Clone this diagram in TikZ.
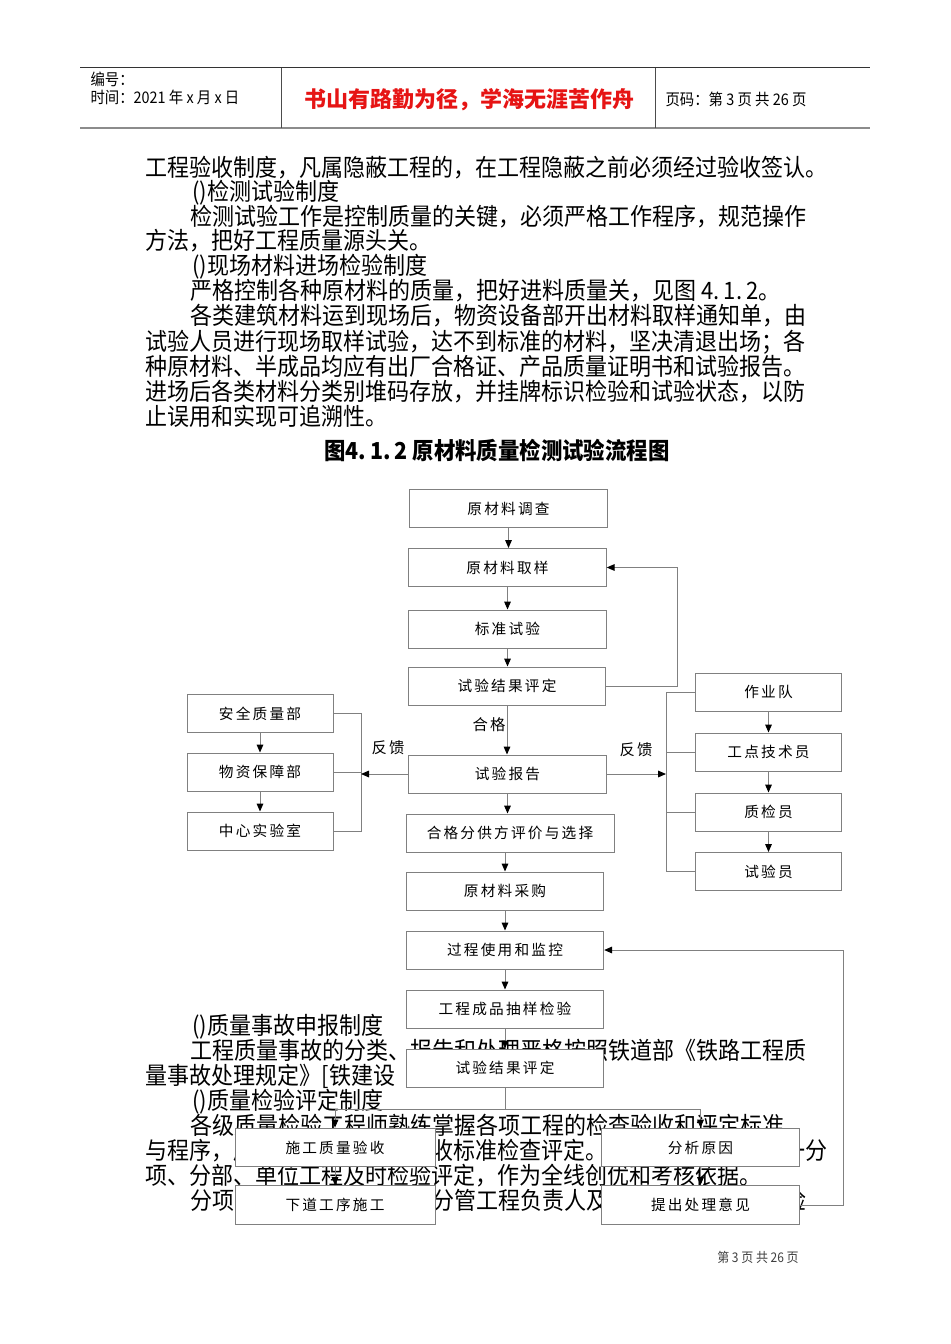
\documentclass[tikz,border=0pt]{standalone}
\usepackage{fontspec}
\setmainfont{Noto Sans CJK SC}
\newfontfamily\bodyfont[FakeStretch=0.917]{Noto Sans CJK SC}
\newfontfamily\hdfont[FakeStretch=0.9]{Noto Sans CJK SC}
\newfontfamily\boxfont[LetterSpace=15]{Noto Sans CJK SC}
\usetikzlibrary{arrows.meta}

\tikzset{every picture/.style={line width=0.75pt}}
\tikzset{
  flowbox/.style={draw=black!50, fill=white, inner sep=0pt, minimum width=148pt, minimum height=28.5pt, font=\boxfont\fontsize{11}{13}\selectfont},
  sidebox/.style={flowbox, minimum width=109.5pt},
  bodyline/.style={anchor=base west, inner sep=0pt, font=\bodyfont\fontsize{18}{20}\selectfont},
  hdtext/.style={anchor=west, inner sep=0pt, font=\hdfont\fontsize{12}{14}\selectfont},
  fblabel/.style={inner sep=0pt, font=\boxfont\fontsize{11.5}{13}\selectfont},
  flowline/.style={draw=black!50},
  flowarrow/.style={flowline, -{Triangle[length=6pt,width=5pt,color=black]}}
}

\begin{document}
\begin{tikzpicture}[x=0.75pt,y=0.75pt,yscale=-1,xscale=1]
			\fill[white] (0,0) rectangle (950,1344);
			\useasboundingbox (0,0) rectangle (950,1344);
			
			%Straight Lines (page head)
			\draw [black!80]  (80,68) -- (870,68) ;
			\draw [black!45][line width=1.5pt]  (80,128) -- (870,128) ;
			\draw [black!70]  (281,68) -- (281,128) ;
			\draw [black!70]  (655,68) -- (655,128) ;
			
			% Text Node
			\node (hdno) at (90,79) [hdtext] {编号：};
			% Text Node
			\node (hdtime) at (90,97) [hdtext] {时间：2021 年 x 月 x 日};
			% Text Node
			\node (motto) at (469,100) [inner sep=0pt, text={rgb,255:red,230;green,20;blue,20}, font=\fontsize{16.5}{18}\selectfont\bfseries] {书山有路勤为径，学海无涯苦作舟};
			% Text Node
			\node (pageno) at (665,99) [hdtext] {页码：第 3 页 共 26 页};
			
			% Text Node
			\node (p1) at (145,177) [bodyline] {工程验收制度，凡属隐蔽工程的，在工程隐蔽之前必须经过验收签认。};
			% Text Node
			\node (p2) at (192,201) [bodyline] {()检测试验制度};
			% Text Node
			\node (p3) at (190,226) [bodyline] {检测试验工作是控制质量的关键，必须严格工作程序，规范操作};
			% Text Node
			\node (p4) at (145,250) [bodyline] {方法，把好工程质量源头关。};
			% Text Node
			\node (p5) at (192,275) [bodyline] {()现场材料进场检验制度};
			% Text Node
			\node (p6) at (190,300) [bodyline] {严格控制各种原材料的质量，把好进料质量关，见图 4.\,1.\,2。};
			% Text Node
			\node (p7) at (190,325) [bodyline] {各类建筑材料运到现场后，物资设备部开出材料取样通知单，由};
			% Text Node
			\node (p8) at (145,350) [bodyline] {试验人员进行现场取样试验，达不到标准的材料，坚决清退出场；各};
			% Text Node
			\node (p9) at (145,375) [bodyline] {种原材料、半成品均应有出厂合格证、产品质量证明书和试验报告。};
			% Text Node
			\node (p10) at (145,400) [bodyline] {进场后各类材料分类别堆码存放，并挂牌标识检验和试验状态，以防};
			% Text Node
			\node (p11) at (145,425) [bodyline] {止误用和实现可追溯性。};
			% Text Node
			\node (figtitle) at (497,451) [inner sep=0pt, font=\bodyfont\fontsize{17.5}{20}\selectfont\bfseries] {图4.\,1.\,2 原材料质量检测试验流程图};
			
			% Text Node
			\node (q1) at (192,1034) [bodyline] {()质量事故申报制度};
			% Text Node
			\node (q2) at (190,1059) [bodyline] {工程质量事故的分类、报告和处理严格按照铁道部《铁路工程质};
			% Text Node
			\node (q3) at (145,1084) [bodyline] {量事故处理规定》[铁建设};
			% Text Node
			\node (q4) at (192,1109) [bodyline] {()质量检验评定制度};
			% Text Node
			\node (q5) at (190,1134) [bodyline] {各级质量检验工程师熟练掌握各项工程的检查验收和评定标准};
			% Text Node
			\node (q6) at (145,1159) [bodyline] {与程序，严格按照施工质量验收标准检查评定。各施工单位应对每一分};
			% Text Node
			\node (q7) at (145,1184) [bodyline] {项、分部、单位工程及时检验评定，作为全线创优和考核依据。};
			% Text Node
			\node (q8) at (190,1209) [bodyline] {分项工程完工后，先由各分管工程负责人及质检工程师进行自检};
			
			% Text Node
			\node (foot) at (758,1257) [inner sep=0pt, text=black!75, font=\hdfont\fontsize{10}{12}\selectfont] {第 3 页 共 26 页};
			
			%Flow boxes (main column)
			\node (survey) at (508.5,508.5) [flowbox] {原材料调查};
			\node (sample) at (507.5,567.5) [flowbox] {原材料取样};
			\node (stdtest) at (507.5,629) [flowbox] {标准试验};
			\node (evalup) at (507,686) [flowbox] {试验结果评定};
			\node (report) at (507.5,774) [flowbox] {试验报告};
			\node (supplier) at (510,833) [flowbox, minimum width=156pt] {合格分供方评价与选择};
			\node (purchase) at (505,891) [flowbox] {原材料采购};
			\node (usage) at (505,950) [flowbox] {过程使用和监控};
			\node (sampling) at (505,1009) [flowbox] {工程成品抽样检验};
			\node (evallow) at (505,1068) [flowbox] {试验结果评定};
			\node (accept) at (335,1147.5) [flowbox, minimum width=150pt, minimum height=29pt] {施工质量验收};
			\node (nextstep) at (335,1205) [flowbox, minimum width=150pt, minimum height=29pt] {下道工序施工};
			\node (analyse) at (700.5,1147.5) [flowbox, minimum width=149pt, minimum height=29pt] {分析原因};
			\node (propose) at (700.5,1205) [flowbox, minimum width=149pt, minimum height=29pt] {提出处理意见};
			
			%Flow boxes (left)
			\node (safety) at (260,713.5) [sidebox] {安全质量部};
			\node (supply) at (260,772) [sidebox] {物资保障部};
			\node (centlab) at (260,831) [sidebox] {中心实验室};
			
			%Flow boxes (right)
			\node (team) at (768.5,692) [sidebox, minimum width=109pt] {作业队};
			\node (sitetech) at (768.5,752) [sidebox, minimum width=109pt] {工点技术员};
			\node (qcman) at (768.5,812) [sidebox, minimum width=109pt] {质检员};
			\node (tester) at (768.5,871.5) [sidebox, minimum width=109pt] {试验员};
			
			\coordinate (lbus) at (361,774);
			\coordinate (rbus) at (666,774);
			\coordinate (split) at (505,1109);
			
			%Straight Lines (main column)
			\draw [flowarrow] (survey.south) -- (survey.south |- sample.north) ;
			\draw [flowarrow] (sample.south) -- (sample.south |- stdtest.north) ;
			\draw [flowarrow] (stdtest.south) -- (stdtest.south |- evalup.north) ;
			\draw [flowarrow] (evalup.south) -- (evalup.south |- report.north) ;
			\draw [flowarrow] (report.south) -- (report.south |- supplier.north) ;
			\draw [flowarrow] (purchase.north |- supplier.south) -- (purchase.north) ;
			\draw [flowarrow] (purchase.south) -- (usage.north) ;
			\draw [flowarrow] (usage.south) -- (sampling.north) ;
			\draw [flowarrow] (sampling.south) -- (evallow.north) ;
			%Straight Lines (repeat sampling)
			\draw [flowarrow] (evalup.east) -- ++(71,0) |- (sample.east) ;
			
			%Straight Lines (left feedback)
			\draw [flowline] (safety.east) -- (safety.east -| lbus) -- (centlab.east -| lbus) -- (centlab.east) ;
			\draw [flowline] (supply.east) -- (supply.east -| lbus) ;
			\draw [flowarrow] (report.west) -- (lbus) ;
			\draw [flowarrow] (safety) -- (supply) ;
			\draw [flowarrow] (supply) -- (centlab) ;
			
			%Straight Lines (right feedback)
			\draw [flowline] (team.west) -- (team.west -| rbus) -- (tester.west -| rbus) -- (tester.west) ;
			\draw [flowline] (sitetech.west) -- (sitetech.west -| rbus) ;
			\draw [flowline] (qcman.west) -- (qcman.west -| rbus) ;
			\draw [flowarrow] (report.east) -- (rbus) ;
			\draw [flowarrow] (team) -- (sitetech) ;
			\draw [flowarrow] (sitetech) -- (qcman) ;
			\draw [flowarrow] (qcman) -- (tester) ;
			
			%Straight Lines (bottom branches)
			\draw [flowline] (evallow.south) -- (split) ;
			\draw [flowarrow] (split) -| (accept.north) ;
			\draw [flowarrow] (split) -| (analyse.north) ;
			\draw [flowarrow] (accept) -- (nextstep) ;
			\draw [flowarrow] (analyse) -- (propose) ;
			\draw [flowarrow] (propose.east) -- ++(43,0) |- (usage.east) ;
			
			% Text Node
			\node (passlbl) at (489,725) [fblabel] {合格};
			% Text Node
			\node (fbleft) at (388,748) [fblabel] {反馈};
			% Text Node
			\node (fbright) at (636,750) [fblabel] {反馈};
		\end{tikzpicture}
\end{document}
